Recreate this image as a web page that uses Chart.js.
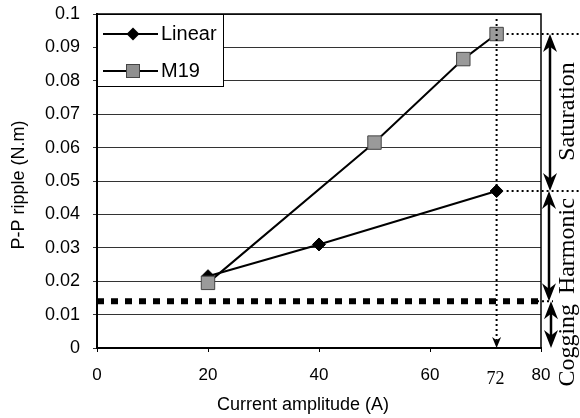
<!DOCTYPE html>
<html>
<head>
<meta charset="utf-8">
<script src="https://cdn.jsdelivr.net/npm/chart.js@4"></script>
<style>
html,body{margin:0;padding:0;background:#fff;}
#wrap{width:580px;height:418px;position:relative;}
</style>
</head>
<body>
<div id="wrap"><canvas id="c" width="580" height="418"></canvas></div>
<script>
// ---- data ----
const linearCurrent = [20, 40, 72];
const linearRipple = [0.0215, 0.031, 0.047];
const m19Current = [20, 50, 66, 72];
const m19Ripple = [0.0195, 0.0615, 0.0865, 0.094];
const coggingLevel = 0.014;
const markedCurrent = 72;
const xTickValues = [0, 20, 40, 60, 80];
const yTickValues = [0, 0.01, 0.02, 0.03, 0.04, 0.05, 0.06, 0.07, 0.08, 0.09, 0.1];
const seriesNames = ['Linear', 'M19'];
const bandLabels = ['Saturation', 'Harmonic', 'Cogging'];
const xTitle = 'Current amplitude (A)';
const yTitle = 'P-P ripple (N.m)';

const SANS = '"Liberation Sans", Arial, sans-serif';
const SERIF = '"Liberation Serif", "Times New Roman", serif';

function toPoints(xs, ys){ return xs.map((x,i)=>({x:x, y:ys[i]})); }

function arrowHead(ctx, x, y, dir, len, half){
  ctx.beginPath();
  ctx.moveTo(x, y);
  ctx.lineTo(x - half, y - dir*len);
  ctx.lineTo(x, y - dir*len*0.7);
  ctx.lineTo(x + half, y - dir*len);
  ctx.closePath();
  ctx.fill();
}
function doubleArrow(ctx, x, yTop, yBot){
  ctx.save();
  ctx.strokeStyle = '#000'; ctx.fillStyle = '#000'; ctx.lineWidth = 2.5;
  ctx.beginPath(); ctx.moveTo(x, yTop + 8); ctx.lineTo(x, yBot - 8); ctx.stroke();
  arrowHead(ctx, x, yTop, -1, 18, 7);
  arrowHead(ctx, x, yBot, 1, 18, 7);
  ctx.restore();
}

const overlay = {
  id: 'overlay',
  afterDatasetsDraw(chart){
    const ctx = chart.ctx, a = chart.chartArea;
    const xs = chart.scales.x, ys = chart.scales.y;
    ctx.save();
    // frame top/right
    ctx.strokeStyle = '#000'; ctx.lineWidth = 1.5;
    ctx.beginPath();
    ctx.moveTo(a.left, a.top); ctx.lineTo(a.right, a.top); ctx.lineTo(a.right, a.bottom);
    ctx.stroke();

    // dotted helper lines
    const xm = xs.getPixelForValue(markedCurrent);
    ctx.setLineDash([2,3]); ctx.lineWidth = 2;
    ctx.beginPath();
    ctx.moveTo(xm, ys.getPixelForValue(0.0985)); ctx.lineTo(xm, a.bottom - 8);
    const yTopVal = m19Ripple[m19Ripple.length-1];
    const yMidVal = linearRipple[linearRipple.length-1];
    ctx.moveTo(xm + 10, ys.getPixelForValue(yTopVal)); ctx.lineTo(chart.width, ys.getPixelForValue(yTopVal));
    ctx.moveTo(xm + 10, ys.getPixelForValue(yMidVal)); ctx.lineTo(chart.width, ys.getPixelForValue(yMidVal));
    ctx.moveTo(a.right - 4, ys.getPixelForValue(coggingLevel)); ctx.lineTo(a.right + 12, ys.getPixelForValue(coggingLevel));
    ctx.stroke();
    ctx.setLineDash([]);
    ctx.fillStyle = '#000';
    arrowHead(ctx, xm, a.bottom, 1, 11, 4.5);

    // band arrows
    const ax = a.right + 9;
    const yS = ys.getPixelForValue(yTopVal), yH = ys.getPixelForValue(yMidVal),
          yC = ys.getPixelForValue(coggingLevel), y0 = ys.getPixelForValue(0);
    doubleArrow(ctx, ax, yS, yH);
    doubleArrow(ctx, ax - 1, yH, yC);
    doubleArrow(ctx, ax + 1, yC, y0);

    // band labels
    ctx.fillStyle = '#000';
    ctx.font = '24px ' + SERIF;
    ctx.textAlign = 'center'; ctx.textBaseline = 'middle';
    const lx = a.right + 27;
    [[bandLabels[0], (yS + yH)/2 - 1], [bandLabels[1], (yH + yC)/2 + 0], [bandLabels[2], yC + 44]].forEach(([t, y])=>{
      ctx.save(); ctx.translate(lx, y); ctx.rotate(-Math.PI/2); ctx.fillText(t, 0, 0); ctx.restore();
    });

    // 72 label
    ctx.font = '18px ' + SERIF;
    ctx.fillText(String(markedCurrent), xm - 1, a.bottom + 31);

    // axis titles
    ctx.font = '18px ' + SANS;
    ctx.fillText(xTitle, (a.left + a.right)/2 - 16, 405);
    ctx.save(); ctx.translate(19, (a.top + a.bottom)/2 + 4); ctx.rotate(-Math.PI/2);
    ctx.fillText(yTitle, 0, 0); ctx.restore();

    // legend
    const lgL = a.left, lgT = a.top, lgR = a.left + 127, lgB = a.top + 73;
    ctx.fillStyle = '#fff'; ctx.fillRect(lgL, lgT, lgR - lgL, lgB - lgT);
    ctx.strokeStyle = '#000'; ctx.lineWidth = 1;
    ctx.strokeRect(lgL + 0.5, lgT + 0.5, lgR - lgL - 1, lgB - lgT - 1);
    const rows = [lgT + 20, lgT + 57];
    ctx.lineWidth = 2;
    rows.forEach((y, i)=>{
      ctx.strokeStyle = '#000';
      ctx.beginPath(); ctx.moveTo(lgL + 6, y); ctx.lineTo(lgL + 61, y); ctx.stroke();
      const cx = lgL + 36;
      if (i === 0){
        ctx.fillStyle = '#000';
        ctx.beginPath(); ctx.moveTo(cx, y - 6.5); ctx.lineTo(cx + 6.5, y); ctx.lineTo(cx, y + 6.5); ctx.lineTo(cx - 6.5, y); ctx.closePath(); ctx.fill();
      } else {
        ctx.fillStyle = '#8f8f8f'; ctx.fillRect(cx - 7, y - 7, 14, 14);
        ctx.lineWidth = 1; ctx.strokeStyle = '#444'; ctx.strokeRect(cx - 6.5, y - 6.5, 13, 13); ctx.lineWidth = 2;
      }
      ctx.fillStyle = '#000'; ctx.font = '20px ' + SANS; ctx.textAlign = 'left';
      ctx.fillText(seriesNames[i], lgL + 64, y);
    });
    ctx.restore();
  }
};

new Chart(document.getElementById('c'), {
  type: 'line',
  data: {
    datasets: [
      {
        label: 'Cogging level',
        data: toPoints([0, 80], [coggingLevel, coggingLevel]),
        borderColor: '#000', borderWidth: 6, borderDash: [7,7],
        pointRadius: 0, fill: false, order: 3
      },
      {
        label: seriesNames[0],
        data: toPoints(linearCurrent, linearRipple),
        borderColor: '#000', borderWidth: 2,
        pointStyle: 'rectRot', pointRadius: 6.5,
        pointBackgroundColor: '#000', pointBorderColor: '#000', pointBorderWidth: 1,
        fill: false, order: 2
      },
      {
        label: seriesNames[1],
        data: toPoints(m19Current, m19Ripple),
        borderColor: '#000', borderWidth: 2,
        pointStyle: 'rect', pointRadius: 9.5,
        pointBackgroundColor: '#9a9a9a', pointBorderColor: '#444', pointBorderWidth: 1,
        fill: false, order: 1
      }
    ]
  },
  options: {
    responsive: false,
    animation: false,
    layout: { padding: { top: 14, right: 39, left: 0, bottom: 0 } },
    plugins: { legend: { display: false }, tooltip: { enabled: false } },
    scales: {
      x: {
        type: 'linear', min: 0, max: 80,
        afterFit(s){ s.height = 70; s.paddingLeft = 0; s.paddingRight = 0; },
        afterBuildTicks(s){ s.ticks = xTickValues.map(v=>({value:v})); },
        ticks: { color: '#000', font: { family: SANS, size: 17 }, padding: 13, maxRotation: 0,
                 callback: v => String(v) },
        grid: { drawOnChartArea: false, drawTicks: true, tickLength: 4, color: '#000' },
        border: { color: '#000', width: 2 }
      },
      y: {
        min: 0, max: 0.1,
        afterFit(s){ s.width = 97; s.paddingTop = 0; s.paddingBottom = 0; },
        afterBuildTicks(s){ s.ticks = yTickValues.map(v=>({value:v})); },
        ticks: { color: '#000', font: { family: SANS, size: 18 }, padding: 13,
                 callback: v => String(Number(v.toFixed(2))) },
        grid: { color: '#333', lineWidth: 1, tickLength: 4 },
        border: { color: '#000', width: 2 }
      }
    }
  },
  plugins: [overlay]
});
</script>
</body>
</html>
